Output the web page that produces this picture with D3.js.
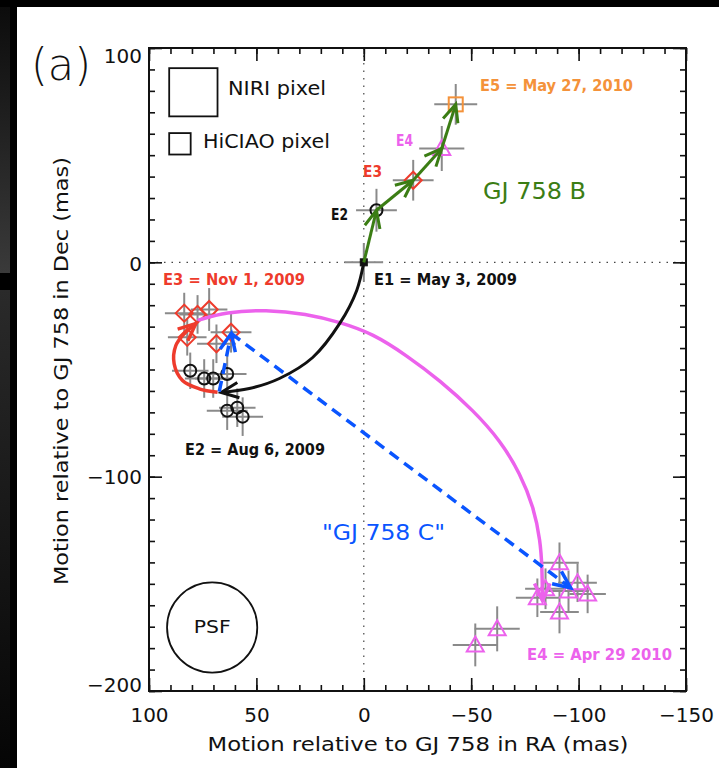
<!DOCTYPE html>
<html><head><meta charset="utf-8">
<script src="https://cdn.jsdelivr.net/npm/d3@7"></script>
<style>html,body{margin:0;padding:0;background:#000;} svg{display:block;}</style>
</head><body>
<svg id="chart" width="719" height="768"></svg>
<script>
// ---------------- DATA ----------------
const xMajorTicks = [100, 50, 0, -50, -100, -150];
const yMajorTicks = [100, 0, -100, -200];
const xMinorTicks = d3.range(100, -151, -10);
const yMinorTicks = d3.range(100, -201, -10);

// GJ 758 B track, epochs E1..E5 (RA, Dec offsets in mas)
const bEpochs = ["E1", "E2", "E3", "E4", "E5"];
const bRA     = [0, -5.9, -23.0, -36.3, -42.8];
const bDec    = [0, 24.3, 38.3, 53.1, 73.7];
const bErrRA  = [9.0, 9.5, 9.5, 10.5, 10.0];
const bErrDec = [9.0, 10.0, 9.5, 10.5, 9.5];

// "GJ 758 C" measurements at E2 (circles)
const e2RA     = [80.8, 74.3, 70.1, 63.6, 63.6, 58.9, 56.4];
const e2Dec    = [-50.6, -54.2, -54.2, -52.1, -69.2, -67.8, -72.0];
const e2ErrRA  = [8.5, 9.0, 8.5, 9.0, 9.5, 8.5, 9.5];
const e2ErrDec = [8.5, 9.0, 9.0, 9.5, 9.0, 9.0, 9.0];

// at E3 (diamonds)
const e3RA     = [83.6, 77.4, 72.0, 82.2, 68.6, 61.8];
const e3Dec    = [-23.7, -24.3, -22.0, -35.0, -38.0, -32.6];
const e3ErrRA  = [9.0, 8.5, 8.5, 9.0, 9.0, 9.5];
const e3ErrDec = [9.5, 9.0, 10.0, 8.5, 9.0, 9.5];

// at E4 (triangles)
const e4RA     = [-91.1, -80.8, -84.6, -99.5, -95.3, -104.2, -91.1, -62.1, -51.9];
const e4Dec    = [-140.2, -156.5, -152.3, -149.5, -153.3, -154.7, -163.1, -171.0, -178.5];
const e4ErrRA  = [9.0, 10.0, 9.5, 9.0, 9.5, 8.5, 9.0, 10.5, 10.5];
const e4ErrDec = [9.5, 9.0, 9.5, 9.0, 9.5, 9.0, 10.0, 10.5, 10.0];

// expected background-star tracks (waypoints)
const trackE1E2 = [[0,0],[3.3,-13.1],[11.2,-28.5],[23.8,-44.4],[39.3,-54.2],[53.3,-58.9],[66.4,-60.7]];
const trackE2E3 = [[68.1,-60.6],[76.6,-59.0],[84.4,-55.1],[88.3,-47.3],[87.5,-38.8],[83.6,-33.3],[78.2,-28.6]];
const trackE3E4 = [[77.4,-27.1],[64.2,-23.2],[45.5,-22.1],[26.8,-24.0],[11.2,-27.9],[-4.3,-33.3],[-20.0,-43.5],
                   [-35.5,-55.1],[-51.1,-69.2],[-63.6,-83.2],[-72.9,-98.7],[-79.1,-114.3],[-82.2,-129.9],[-83.0,-142.4],[-83.2,-157.9]];
// "GJ 758 C" mean positions E2 -> E3 -> E4
const cMeanPath = [[67.3,-60.3],[61.7,-33.2],[-96.3,-151.9]];

// legend: pixel sizes (mas) and PSF diameter (mas)
const pixelNames = ["NIRI pixel", "HiCIAO pixel"];
const pixelSizes = [22.5, 10.0];
const psfDiameter = 42;

// ---------------- DRAWING ----------------
const svg = d3.select("#chart");
const W = 719, H = 768;
const FONT = "'DejaVu Sans', 'Liberation Sans', sans-serif";
const C = {red:"#ee3b2c", orange:"#f4923a", magenta:"#ec62ec", green:"#3b7d14", blue:"#0a55ff", gray:"#8a8a8a", black:"#111"};

// page background (screenshot frame)
svg.append("rect").attr("width", W).attr("height", H).attr("fill", "#000");
const defs = svg.append("defs");
const g1 = defs.append("linearGradient").attr("id","lg1").attr("x1",0).attr("y1",0).attr("x2",0).attr("y2",1);
g1.append("stop").attr("offset","0%").attr("stop-color","#0c0c0c");
g1.append("stop").attr("offset","100%").attr("stop-color","#3a3a3a");
const g2 = defs.append("linearGradient").attr("id","lg2").attr("x1",0).attr("y1",0).attr("x2",0).attr("y2",1);
g2.append("stop").attr("offset","0%").attr("stop-color","#2a2a2a");
g2.append("stop").attr("offset","100%").attr("stop-color","#050505");
svg.append("rect").attr("x",0).attr("y",7).attr("width",10).attr("height",266).attr("fill","url(#lg1)");
svg.append("rect").attr("x",0).attr("y",290).attr("width",10).attr("height",478).attr("fill","url(#lg2)");
svg.append("rect").attr("x",17).attr("y",7).attr("width",W-17).attr("height",H-7).attr("fill","#fff");

const x = d3.scaleLinear().domain([100, -150]).range([149, 686]);
const y = d3.scaleLinear().domain([100, -200]).range([48, 691]);
const [x0, x1] = x.range(), [y0, y1] = y.range();

// zero lines (dotted)
svg.append("line").attr("x1", x(0)).attr("x2", x(0)).attr("y1", y0).attr("y2", y1)
  .attr("stroke", "#444").attr("stroke-width", 1.2).attr("stroke-dasharray", "1.5,6");
svg.append("line").attr("x1", x0).attr("x2", x1).attr("y1", y(0)).attr("y2", y(0))
  .attr("stroke", "#444").attr("stroke-width", 1.2).attr("stroke-dasharray", "1.5,6");

// axes
function styleAxis(g) {
  g.select(".domain").remove();
  g.selectAll(".tick line").attr("stroke", "#111").attr("stroke-width", 1.6);
}
const axes = svg.append("g");
axes.append("g").attr("transform", `translate(0,${y1})`)
  .call(d3.axisBottom(x).tickValues(xMinorTicks).tickSize(-6).tickFormat(""))
  .call(styleAxis);
axes.append("g").attr("transform", `translate(0,${y0})`)
  .call(d3.axisTop(x).tickValues(xMinorTicks).tickSize(-6).tickFormat(""))
  .call(styleAxis);
axes.append("g").attr("transform", `translate(${x0},0)`)
  .call(d3.axisLeft(y).tickValues(yMinorTicks).tickSize(-6).tickFormat(""))
  .call(styleAxis);
axes.append("g").attr("transform", `translate(${x1},0)`)
  .call(d3.axisRight(y).tickValues(yMinorTicks).tickSize(-6).tickFormat(""))
  .call(styleAxis);
const fmt = d => (d < 0 ? "\u2212" + Math.abs(d) : String(d));
const xb = axes.append("g").attr("transform", `translate(0,${y1})`)
  .call(d3.axisBottom(x).tickValues(xMajorTicks).tickSize(-13).tickPadding(17).tickFormat(fmt))
  .call(styleAxis);
axes.append("g").attr("transform", `translate(0,${y0})`)
  .call(d3.axisTop(x).tickValues(xMajorTicks).tickSize(-13).tickFormat(""))
  .call(styleAxis);
const yl = axes.append("g").attr("transform", `translate(${x0},0)`)
  .call(d3.axisLeft(y).tickValues(yMajorTicks).tickSize(-13).tickPadding(7).tickFormat(fmt))
  .call(styleAxis);
axes.append("g").attr("transform", `translate(${x1},0)`)
  .call(d3.axisRight(y).tickValues(yMajorTicks).tickSize(-13).tickFormat(""))
  .call(styleAxis);
[xb, yl].forEach(g => g.selectAll(".tick text")
  .attr("font-family", FONT).attr("font-size", 20).attr("fill", "#111"));
// IDL keeps the end labels inside the axis range
yl.selectAll(".tick text").attr("transform", d => d === 100 ? "translate(0,8)" : d === -200 ? "translate(0,-6)" : d === 0 ? "translate(0,2)" : null);

// frame
svg.append("rect").attr("x", x0).attr("y", y0).attr("width", x1 - x0).attr("height", y1 - y0)
  .attr("fill", "none").attr("stroke", "#111").attr("stroke-width", 2);

// axis titles
svg.append("text").attr("x", (x0 + x1) / 2 + 0.5).attr("y", 751).attr("text-anchor", "middle")
  .attr("font-family", FONT).attr("font-size", 19).attr("fill", "#111")
  .attr("textLength", 421).attr("lengthAdjust", "spacingAndGlyphs")
  .text("Motion relative to GJ 758 in RA (mas)");
svg.append("text").attr("transform", "translate(68,371) rotate(-90)").attr("text-anchor", "middle")
  .attr("font-family", FONT).attr("font-size", 19).attr("fill", "#111")
  .attr("textLength", 428).attr("lengthAdjust", "spacingAndGlyphs")
  .text("Motion relative to GJ 758 in Dec (mas)");

// panel label
svg.append("text").attr("x", 31).attr("y", 80).attr("font-family", FONT).attr("font-weight", 200)
  .attr("font-size", 44).attr("fill", "#111").attr("textLength", 60).attr("lengthAdjust", "spacingAndGlyphs").text("(a)");

// legend pixel boxes
const legX = 90.6, legTops = [90.6, 60.3];
pixelSizes.forEach((s, i) => {
  svg.append("rect").attr("x", x(legX)).attr("y", y(legTops[i]))
    .attr("width", x(legX - s) - x(legX)).attr("height", y(legTops[i] - s) - y(legTops[i]))
    .attr("fill", "none").attr("stroke", "#111").attr("stroke-width", 1.8);
});
svg.append("text").attr("x", 228).attr("y", 95).attr("font-family", FONT).attr("font-size", 20)
  .attr("fill", "#111").attr("textLength", 98).attr("lengthAdjust", "spacingAndGlyphs").text(pixelNames[0]);
svg.append("text").attr("x", 203).attr("y", 148).attr("font-family", FONT).attr("font-size", 20)
  .attr("fill", "#111").attr("textLength", 127).attr("lengthAdjust", "spacingAndGlyphs").text(pixelNames[1]);

// PSF circle
const psfC = [70.6, -170.4];
svg.append("circle").attr("cx", x(psfC[0])).attr("cy", y(psfC[1]))
  .attr("r", x(0) - x(psfDiameter / 2)).attr("fill", "none").attr("stroke", "#111").attr("stroke-width", 1.8);
svg.append("text").attr("x", x(psfC[0])).attr("y", 633).attr("text-anchor", "middle")
  .attr("font-family", FONT).attr("font-size", 18).attr("fill", "#111")
  .attr("textLength", 37).attr("lengthAdjust", "spacingAndGlyphs").text("PSF");

// error bars
const errG = svg.append("g").attr("stroke", C.gray).attr("stroke-width", 2);
function errorBars(ra, dec, eRA, eDec) {
  ra.forEach((r, i) => {
    errG.append("line").attr("x1", x(r - eRA[i])).attr("x2", x(r + eRA[i])).attr("y1", y(dec[i])).attr("y2", y(dec[i]));
    errG.append("line").attr("x1", x(r)).attr("x2", x(r)).attr("y1", y(dec[i] - eDec[i])).attr("y2", y(dec[i] + eDec[i]));
  });
}
errorBars(bRA, bDec, bErrRA, bErrDec);
errorBars(e2RA, e2Dec, e2ErrRA, e2ErrDec);
errorBars(e3RA, e3Dec, e3ErrRA, e3ErrDec);
errorBars(e4RA, e4Dec, e4ErrRA, e4ErrDec);

// markers
const mk = svg.append("g").attr("fill", "none").attr("stroke-width", 2);
const diamond = "M0,-8.5L8.5,0L0,8.5L-8.5,0Z";
const triangle = "M0,-8.5L8.5,6.5L-8.5,6.5Z";
function circles(ra, dec, col) {
  ra.forEach((r, i) => mk.append("circle").attr("cx", x(r)).attr("cy", y(dec[i])).attr("r", 6).attr("stroke", col));
}
function paths(ra, dec, d, col) {
  ra.forEach((r, i) => mk.append("path").attr("d", d).attr("transform", `translate(${x(r)},${y(dec[i])})`).attr("stroke", col));
}
circles(e2RA, e2Dec, C.black);
paths(e3RA, e3Dec, diamond, C.red);
paths(e4RA, e4Dec, triangle, C.magenta);
// B epochs
mk.append("rect").attr("x", x(bRA[0]) - 3.5).attr("y", y(bDec[0]) - 3.5).attr("width", 7).attr("height", 7)
  .attr("fill", "#111").attr("stroke", "#111").attr("stroke-width", 1);
circles([bRA[1]], [bDec[1]], C.black);
paths([bRA[2]], [bDec[2]], diamond, C.red);
paths([bRA[3]], [bDec[3]], triangle, C.magenta);
mk.append("rect").attr("x", x(bRA[4]) - 7).attr("y", y(bDec[4]) - 7).attr("width", 14).attr("height", 14)
  .attr("stroke", C.orange);

// tracks and arrows
const lineCR = d3.line().x(d => x(d[0])).y(d => y(d[1])).curve(d3.curveCatmullRom.alpha(0.5));
const lineB = d3.line().x(d => x(d[0])).y(d => y(d[1])).curve(d3.curveBasis);
function arrowHead(g, tip, prev, col, w, len, ang) {
  const tx = x(tip[0]), ty = y(tip[1]), px = x(prev[0]), py = y(prev[1]);
  const a = Math.atan2(ty - py, tx - px);
  const b1 = [tx - len * Math.cos(a - ang), ty - len * Math.sin(a - ang)];
  const b2 = [tx - len * Math.cos(a + ang), ty - len * Math.sin(a + ang)];
  g.append("path").attr("d", `M${b1[0]},${b1[1]}L${tx},${ty}L${b2[0]},${b2[1]}`)
    .attr("fill", "none").attr("stroke", col).attr("stroke-width", w).attr("stroke-linejoin", "miter");
}
const tr = svg.append("g");
function track(pts, col, w, dash, gen) {
  tr.append("path").attr("d", (gen || lineCR)(pts)).attr("fill", "none").attr("stroke", col).attr("stroke-width", w)
    .attr("stroke-dasharray", dash || null);
  arrowHead(tr, pts[pts.length - 1], pts[pts.length - 2], col, w, 19, 0.42);
}
track(trackE3E4, C.magenta, 3.5, null, lineB);
track(trackE1E2, C.black, 3);
track(trackE2E3, C.red, 3.5);
track(cMeanPath.slice(0, 2), C.blue, 3.5, "11,7");
track(cMeanPath.slice(1, 3), C.blue, 3.5, "11,7");
// B motion (green arrows between epochs)
for (let i = 0; i < bRA.length - 1; i++) {
  track([[bRA[i], bDec[i]], [bRA[i + 1], bDec[i + 1]]], C.green, 3);
}

// annotations
function label(t, px, py, col, size, len, weight) {
  svg.append("text").attr("x", px).attr("y", py).attr("font-family", FONT).attr("font-size", size)
    .attr("font-weight", weight || "bold").attr("fill", col)
    .attr("textLength", len).attr("lengthAdjust", "spacingAndGlyphs").text(t);
}
label("E5 = May 27, 2010", 480, 91, C.orange, 15, 153);
label("E4", 396, 146, C.magenta, 15, 17);
label("E3", 363, 177, C.red, 15, 19);
label("E2", 331, 220, C.black, 15, 17);
label("GJ 758 B", 483, 199, C.green, 23, 103, "normal");
label("E1 = May 3, 2009", 374, 285, C.black, 15, 143);
label("E3 = Nov 1, 2009", 163, 285, C.red, 15, 142);
label("E2 = Aug 6, 2009", 185, 455, C.black, 15, 140);
label("\"GJ 758 C\"", 322, 540, C.blue, 22, 123, "normal");
label("E4 = Apr 29 2010", 527, 660, C.magenta, 15, 145);
</script>
</body></html>
